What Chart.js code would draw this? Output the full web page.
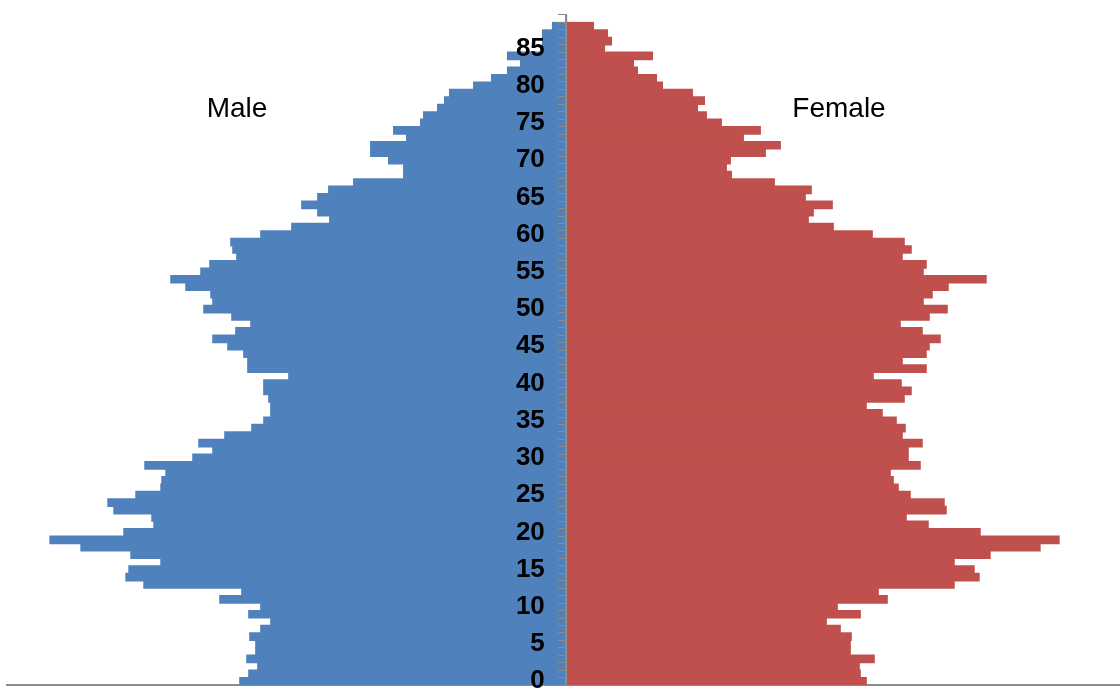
<!DOCTYPE html>
<html>
<head>
<meta charset="utf-8">
<title>Population pyramid</title>
<script src="https://cdn.jsdelivr.net/npm/chart.js@4"></script>
<style>
  body { margin: 0; background: #fff; overflow: hidden; }
  canvas { display: block; }
</style>
</head>
<body>
<canvas id="grafico" width="1120" height="690"></canvas>
<script>
/* age groups, one bar per year */
const idades = [];
for (let a = 0; a <= 89; a++) idades.push(a);

/* values (same arbitrary unit both sides) */
const homens = [
  327, 318, 309, 320, 311, 311, 317, 306, 296, 318,
  306, 347, 325, 423, 441, 438, 406, 436, 486, 517,
  443, 413, 415, 453, 459, 431, 406, 405, 401, 422,
  374, 354, 368, 342, 315, 303, 296, 296, 298, 303,
  303, 278, 319, 319, 323, 339, 354, 331, 316, 335,
  363, 354, 356, 381, 396, 366, 357, 330, 334, 336,
  306, 275, 237, 249, 265, 249, 238, 213, 163, 163,
  178, 196, 196, 160, 173, 146, 143, 129, 122, 117,
  93, 75, 59, 46, 59, 24, 24, 24, 14, 0
];
const mulheres = [
  300, 294, 293, 308, 284, 284, 285, 274, 260, 294,
  271, 321, 312, 388, 413, 408, 388, 424, 474, 493,
  414, 362, 340, 380, 378, 344, 332, 327, 324, 354,
  342, 342, 356, 336, 339, 330, 316, 300, 338, 345,
  335, 307, 360, 336, 360, 363, 374, 356, 334, 363,
  381, 357, 366, 382, 420, 357, 360, 336, 345, 338,
  306, 267, 242, 247, 266, 239, 245, 208, 165, 160,
  164, 199, 214, 177, 194, 155, 140, 131, 138, 126,
  96, 90, 71, 67, 86, 38, 45, 41, 27, 0
];
const rotulos = ["Male", "Female"];

const FONTE = '"Liberation Sans", Arial, sans-serif';

/* text boxes Male / Female */
const textos = {
  id: "textos",
  afterDraw(chart) {
    const ctx = chart.ctx;
    ctx.save();
    ctx.font = "28px " + FONTE;
    ctx.fillStyle = "#000";
    ctx.textAlign = "center";
    ctx.textBaseline = "alphabetic";
    ctx.fillText(rotulos[0], 237, 117);
    ctx.fillText(rotulos[1], 839, 117);
    ctx.restore();
  }
};

/* axis in the middle: no extra room for the first/last label */
function semPadding(s) {
  s.paddingTop = 0;
  s.paddingBottom = 0;
  s.paddingLeft = 0;
  s.paddingRight = 0;
}

new Chart(document.getElementById("grafico"), {
  type: "bar",
  data: {
    labels: idades,
    datasets: [
      {
        label: rotulos[0],
        data: homens.map(v => -v),
        backgroundColor: "#4F81BD",
        borderWidth: 0,
        inflateAmount: 0.6
      },
      {
        label: rotulos[1],
        data: mulheres,
        backgroundColor: "#C0504D",
        borderWidth: 0,
        inflateAmount: 0.6
      }
    ]
  },
  options: {
    indexAxis: "y",
    responsive: false,
    animation: false,
    barPercentage: 1,
    categoryPercentage: 1,
    layout: { padding: { left: 7, right: 0, top: 15, bottom: 5 } },
    plugins: {
      legend: { display: false },
      tooltip: { enabled: false }
    },
    scales: {
      x: {
        min: -560,
        max: 554,
        stacked: true,
        ticks: { display: false },
        grid: { display: false, drawTicks: false },
        border: { display: true, color: "#8c8c8c", width: 2 },
        afterFit: (s) => { s.height = 0; semPadding(s); }
      },
      y: {
        position: { x: 0 },
        reverse: true,
        stacked: true,
        afterFit: semPadding,
        grid: {
          drawOnChartArea: false,
          drawTicks: true,
          tickLength: 7,
          color: "#8c8c8c",
          z: 1
        },
        border: { display: true, color: "#8c8c8c", width: 2, z: 1 },
        ticks: {
          autoSkip: false,
          color: "#000",
          z: 1,
          font: { family: FONTE, size: 26, weight: "bold" },
          callback: (v, i) => (idades[i] % 5 === 0 && idades[i] <= 85) ? idades[i] + "   " : ""
        }
      }
    }
  },
  plugins: [textos]
});
</script>
</body>
</html>
